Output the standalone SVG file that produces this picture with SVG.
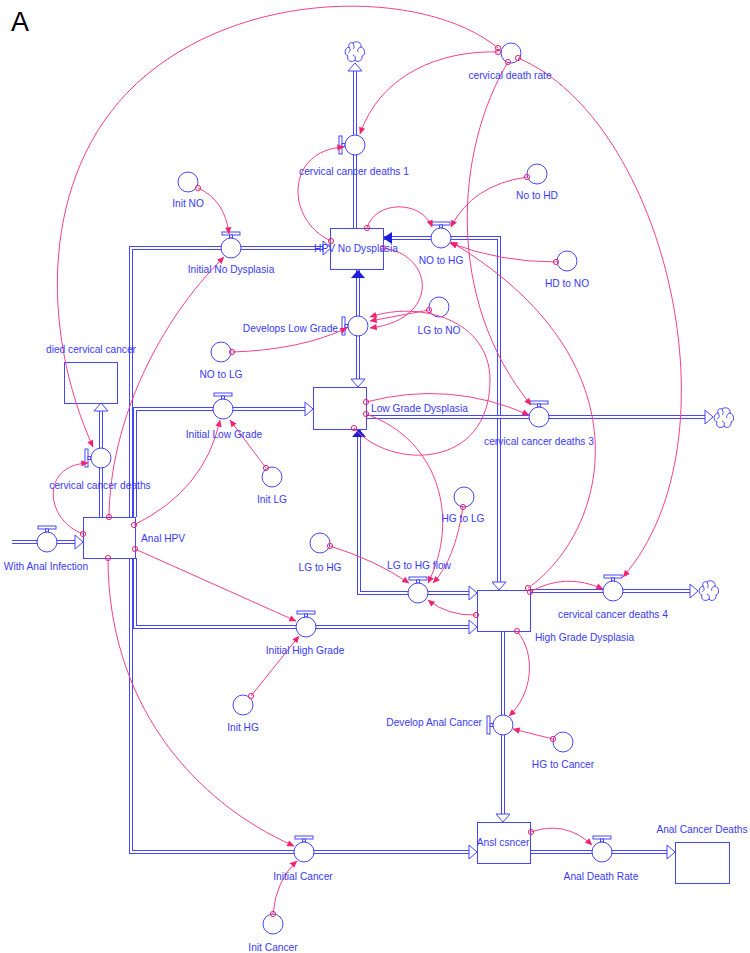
<svg xmlns="http://www.w3.org/2000/svg" width="750" height="953" viewBox="0 0 750 953">
<style>
.b{stroke:#4646ff;fill:#fff;stroke-width:1}
.po{stroke:#4646ff;stroke-width:4;fill:none}
.pi{stroke:#fff;stroke-width:2;fill:none}
.ah{fill:#fff;stroke:#4646ff;stroke-width:1}
.fa{fill:#1c1cdc;stroke:none}
.t{font-family:"Liberation Sans",Arial,sans-serif;font-size:10.2px;fill:#3a3aff;text-anchor:middle}
.l{text-anchor:start}
.r{text-anchor:end}
.c{stroke:#f5418c;fill:none;stroke-width:1;marker-start:url(#o);marker-end:url(#a)}
</style>
<defs>
<marker id="a" viewBox="0 0 10 10" refX="9.5" refY="5" markerWidth="8" markerHeight="7" markerUnits="userSpaceOnUse" orient="auto"><path d="M0,0.5 L10,5 L0,9.5z" fill="#f5216f"/></marker>
<marker id="o" viewBox="-4 -4 8 8" refX="0" refY="0" markerWidth="8" markerHeight="8" markerUnits="userSpaceOnUse"><circle r="2.6" fill="none" stroke="#f5216f" stroke-width="1"/></marker>
<g id="cloud"><path d="M-2,-9 C2,-12 7,-9 6,-5 C10,-4 11,3 7,4 C8,9 2,11 0,8 C-3,11 -9,9 -7,4 C-11,3 -11,-4 -6,-5 C-7,-9 -4,-10 -2,-9 Z M-2,-9 C-1,-6 0,-5 -2,-3 M6,-5 C3,-4 2,-2 3,0 M0,8 C1,5 0,4 -2,3 M-6,-5 C-4,-2 -5,0 -7,1" fill="#fff" stroke="#4646ff" stroke-width="1"/></g>
</defs>
<rect width="750" height="953" fill="#fff"/>
<text x="11" y="31" font-family="Liberation Sans,Arial,sans-serif" font-size="27" fill="#000">A</text>

<g id="flows">
<path class="po" d="M355,228 V71"/><path class="pi" d="M355,228 V71"/>
<polygon class="ah" points="348,71 355,63 362,71"/>
<path class="po" d="M384,238 H499 V582"/><path class="pi" d="M384,238 H499 V582"/>
<polygon class="ah" points="492,582 499,590 506,582"/>
<polygon class="fa" points="383,238 392,232 392,244"/>
<path class="po" d="M358,270 V379"/><path class="pi" d="M358,270 V379"/>
<polygon class="fa" points="358,270 351,278 365,278"/>
<polygon class="ah" points="351,379 358,387 365,379"/>
<path class="po" d="M366,417 H705"/><path class="pi" d="M366,417 H705"/>
<polygon class="ah" points="705,410 713,417 705,424"/>
<path class="po" d="M359,430 V593 H469"/><path class="pi" d="M359,430 V593 H469"/>
<polygon class="fa" points="359,429 352,437 366,437"/>
<polygon class="ah" points="469,586 477,593 469,600"/>
<path class="po" d="M530,591 H690"/><path class="pi" d="M530,591 H690"/>
<polygon class="ah" points="690,584 698,591 690,598"/>
<path class="po" d="M503,631 V814"/><path class="pi" d="M503,631 V814"/>
<polygon class="ah" points="496,814 503,822 510,814"/>
<path class="po" d="M530,852 H667"/><path class="pi" d="M530,852 H667"/>
<polygon class="ah" points="667,845 675,852 667,859"/>
<path class="po" d="M131,517 V248 H323"/><path class="pi" d="M131,517 V248 H323"/>
<polygon class="ah" points="323,241 331,248 323,255"/>
<path class="po" d="M135,517 V409 H305"/><path class="pi" d="M135,517 V409 H305"/>
<polygon class="ah" points="305,402 313,409 305,416"/>
<path class="po" d="M131,558 V852 H469"/><path class="pi" d="M131,558 V852 H469"/>
<polygon class="ah" points="469,845 477,852 469,859"/>
<path class="po" d="M135,558 V627 H469"/><path class="pi" d="M135,558 V627 H469"/>
<polygon class="ah" points="469,620 477,627 469,634"/>
<path class="po" d="M12,542 H75"/><path class="pi" d="M12,542 H75"/>
<polygon class="ah" points="75,535 83,542 75,549"/>
<path class="po" d="M101,517 V411"/><path class="pi" d="M101,517 V411"/>
<polygon class="ah" points="94,411 101,403 108,411"/>
</g>

<g id="cloud-top"><use href="#cloud" transform="translate(355,52)"/></g>
<g id="cloud-lg"><use href="#cloud" transform="translate(724,418)"/></g>
<g id="cloud-hg"><use href="#cloud" transform="translate(709,591)"/></g>

<g id="stock-hpv-no-dysplasia"><rect class="b" x="330.5" y="228.5" width="53" height="41"/></g>
<g id="stock-low-grade"><rect class="b" x="313.5" y="387.5" width="53" height="42"/></g>
<g id="stock-died-cervical"><rect class="b" x="64.5" y="362.5" width="53" height="41"/></g>
<g id="stock-anal-hpv"><rect class="b" x="83.5" y="517.5" width="52" height="41"/></g>
<g id="stock-high-grade"><rect class="b" x="477.5" y="590.5" width="53" height="41"/></g>
<g id="stock-ansl-csncer"><rect class="b" x="477.5" y="822.5" width="53" height="41"/></g>
<g id="stock-anal-cancer-deaths"><rect class="b" x="675.5" y="842.5" width="54" height="41"/></g>

<g id="valve-ccd1"><rect class="b" x="339" y="136" width="3" height="18"/><rect class="b" x="342" y="143.5" width="3" height="3"/><circle class="b" cx="355" cy="145" r="10"/></g>
<g id="valve-no-to-hg"><rect class="b" x="432" y="222" width="18" height="3"/><rect class="b" x="439.5" y="225" width="3" height="3"/><circle class="b" cx="441" cy="238" r="10"/></g>
<g id="valve-initial-no"><rect class="b" x="222" y="232" width="18" height="3"/><rect class="b" x="229.5" y="235" width="3" height="3"/><circle class="b" cx="231" cy="248" r="10"/></g>
<g id="valve-develops-lg"><rect class="b" x="342" y="317" width="3" height="18"/><rect class="b" x="345" y="324.5" width="3" height="3"/><circle class="b" cx="358" cy="326" r="10"/></g>
<g id="valve-initial-lg"><rect class="b" x="214" y="393" width="18" height="3"/><rect class="b" x="221.5" y="396" width="3" height="3"/><circle class="b" cx="223" cy="409" r="10"/></g>
<g id="valve-ccd3"><rect class="b" x="530" y="401" width="18" height="3"/><rect class="b" x="537.5" y="404" width="3" height="3"/><circle class="b" cx="539" cy="417" r="10"/></g>
<g id="valve-ccd"><rect class="b" x="85" y="449" width="3" height="18"/><rect class="b" x="88" y="456.5" width="3" height="3"/><circle class="b" cx="101" cy="458" r="10"/></g>
<g id="valve-with-anal"><rect class="b" x="38" y="526" width="18" height="3"/><rect class="b" x="45.5" y="529" width="3" height="3"/><circle class="b" cx="47" cy="542" r="10"/></g>
<g id="valve-lg-to-hg-flow"><rect class="b" x="409" y="577" width="18" height="3"/><rect class="b" x="416.5" y="580" width="3" height="3"/><circle class="b" cx="418" cy="593" r="10"/></g>
<g id="valve-ccd4"><rect class="b" x="604" y="575" width="18" height="3"/><rect class="b" x="611.5" y="578" width="3" height="3"/><circle class="b" cx="613" cy="591" r="10"/></g>
<g id="valve-initial-hg"><rect class="b" x="297" y="611" width="18" height="3"/><rect class="b" x="304.5" y="614" width="3" height="3"/><circle class="b" cx="306" cy="627" r="10"/></g>
<g id="valve-develop-anal"><rect class="b" x="487" y="716" width="3" height="18"/><rect class="b" x="490" y="723.5" width="3" height="3"/><circle class="b" cx="503" cy="725" r="10"/></g>
<g id="valve-initial-cancer"><rect class="b" x="295" y="836" width="18" height="3"/><rect class="b" x="302.5" y="839" width="3" height="3"/><circle class="b" cx="304" cy="852" r="10"/></g>
<g id="valve-anal-death-rate"><rect class="b" x="593" y="836" width="18" height="3"/><rect class="b" x="600.5" y="839" width="3" height="3"/><circle class="b" cx="602" cy="852" r="10"/></g>

<g id="aux-cervical-death-rate"><circle class="b" cx="511" cy="53" r="10"/></g>
<g id="aux-no-to-hd"><circle class="b" cx="537" cy="174" r="10"/></g>
<g id="aux-init-no"><circle class="b" cx="188" cy="182" r="10"/></g>
<g id="aux-hd-to-no"><circle class="b" cx="567" cy="261" r="10"/></g>
<g id="aux-lg-to-no"><circle class="b" cx="439" cy="307" r="10"/></g>
<g id="aux-no-to-lg"><circle class="b" cx="221" cy="352" r="10"/></g>
<g id="aux-init-lg"><circle class="b" cx="272" cy="477" r="10"/></g>
<g id="aux-hg-to-lg"><circle class="b" cx="464" cy="497" r="10"/></g>
<g id="aux-lg-to-hg"><circle class="b" cx="320" cy="543" r="10"/></g>
<g id="aux-init-hg"><circle class="b" cx="243" cy="705" r="10"/></g>
<g id="aux-hg-to-cancer"><circle class="b" cx="563" cy="742" r="10"/></g>
<g id="aux-init-cancer"><circle class="b" cx="273" cy="924" r="10"/></g>

<g id="connectors">
<path class="c" d="M498,52 C440,50 380,75 360,134"/>
<path class="c" d="M498,48 C425,-12 240,-14 135,85 C40,175 40,330 93,447"/>
<path class="c" d="M508,62 C455,150 445,300 531,405"/>
<path class="c" d="M518,58 C665,120 742,440 623,577"/>
<path class="c" d="M331,241 C285,220 285,150 344,147"/>
<path class="c" d="M367,228 C375,200 422,200 432,227"/>
<path class="c" d="M527,177 Q472,185 451,227"/>
<path class="c" d="M556,262 Q500,262 450,243"/>
<path class="c" d="M528,588 C610,530 650,360 451,242"/>
<path class="c" d="M530,592 Q565,572 603,589"/>
<path class="c" d="M476,615 Q448,616 428,600"/>
<path class="c" d="M517,631 C537,655 532,695 509,716"/>
<path class="c" d="M553,739 L513,729"/>
<path class="c" d="M531,832 Q565,820 592,845"/>
<path class="c" d="M273,914 Q276,880 297,861"/>
<path class="c" d="M108,558 C108,700 190,800 294,846"/>
<path class="c" d="M135,549 L296,621"/>
<path class="c" d="M251,696 L299,636"/>
<path class="c" d="M134,525 Q205,490 220,420"/>
<path class="c" d="M266,468 L230,420"/>
<path class="c" d="M109,517 C110,420 160,320 224,257"/>
<path class="c" d="M83,534 C45,520 40,465 88,463"/>
<path class="c" d="M198,188 Q225,200 229,234"/>
<path class="c" d="M232,352 Q300,350 347,328"/>
<path class="c" d="M429,310 L370,321"/>
<path class="c" d="M383,248 C435,255 440,320 370,328"/>
<path class="c" d="M354,428 C390,470 490,470 490,380 C490,320 420,300 370,317"/>
<path class="c" d="M366,402 Q450,380 529,415"/>
<path class="c" d="M366,414 C440,440 460,520 428,583"/>
<path class="c" d="M463,507 Q455,560 433,583"/>
<path class="c" d="M330,546 Q375,560 409,583"/>
</g>

<g id="labels">
<text class="t" x="510" y="79">cervical death rate</text>
<text class="t" x="354" y="175">cervical cancer deaths 1</text>
<text class="t" x="537" y="199">No to HD</text>
<text class="t" x="188" y="207">Init NO</text>
<text class="t" x="356" y="252">HPV No Dysplasia</text>
<text class="t" x="441" y="264">NO to HG</text>
<text class="t" x="567" y="287">HD to NO</text>
<text class="t" x="231" y="273">Initial No Dysplasia</text>
<text class="t r" x="338" y="332">Develops Low Grade</text>
<text class="t" x="439" y="334">LG to NO</text>
<text class="t" x="91" y="353">died cervical cancer</text>
<text class="t" x="221" y="378">NO to LG</text>
<text class="t l" x="371" y="412">Low Grade Dysplasia</text>
<text class="t" x="224" y="438">Initial Low Grade</text>
<text class="t" x="539" y="445">cervical cancer deaths 3</text>
<text class="t" x="100" y="489">cervical cancer deaths</text>
<text class="t" x="272" y="503">Init LG</text>
<text class="t" x="463" y="522">HG to LG</text>
<text class="t l" x="141" y="542">Anal HPV</text>
<text class="t" x="320" y="571">LG to HG</text>
<text class="t" x="419" y="569">LG to HG flow</text>
<text class="t" x="46" y="570">With Anal Infection</text>
<text class="t" x="613" y="618">cervical cancer deaths 4</text>
<text class="t l" x="535" y="641">High Grade Dysplasia</text>
<text class="t" x="305" y="654">Initial High Grade</text>
<text class="t r" x="482" y="726">Develop Anal Cancer</text>
<text class="t" x="243" y="731">Init HG</text>
<text class="t" x="563" y="768">HG to Cancer</text>
<text class="t" x="702" y="833">Anal Cancer Deaths</text>
<text class="t" x="503" y="846">Ansl csncer</text>
<text class="t" x="303" y="880">Initial Cancer</text>
<text class="t" x="601" y="880">Anal Death Rate</text>
<text class="t" x="273" y="951">Init Cancer</text>
</g>
</svg>
